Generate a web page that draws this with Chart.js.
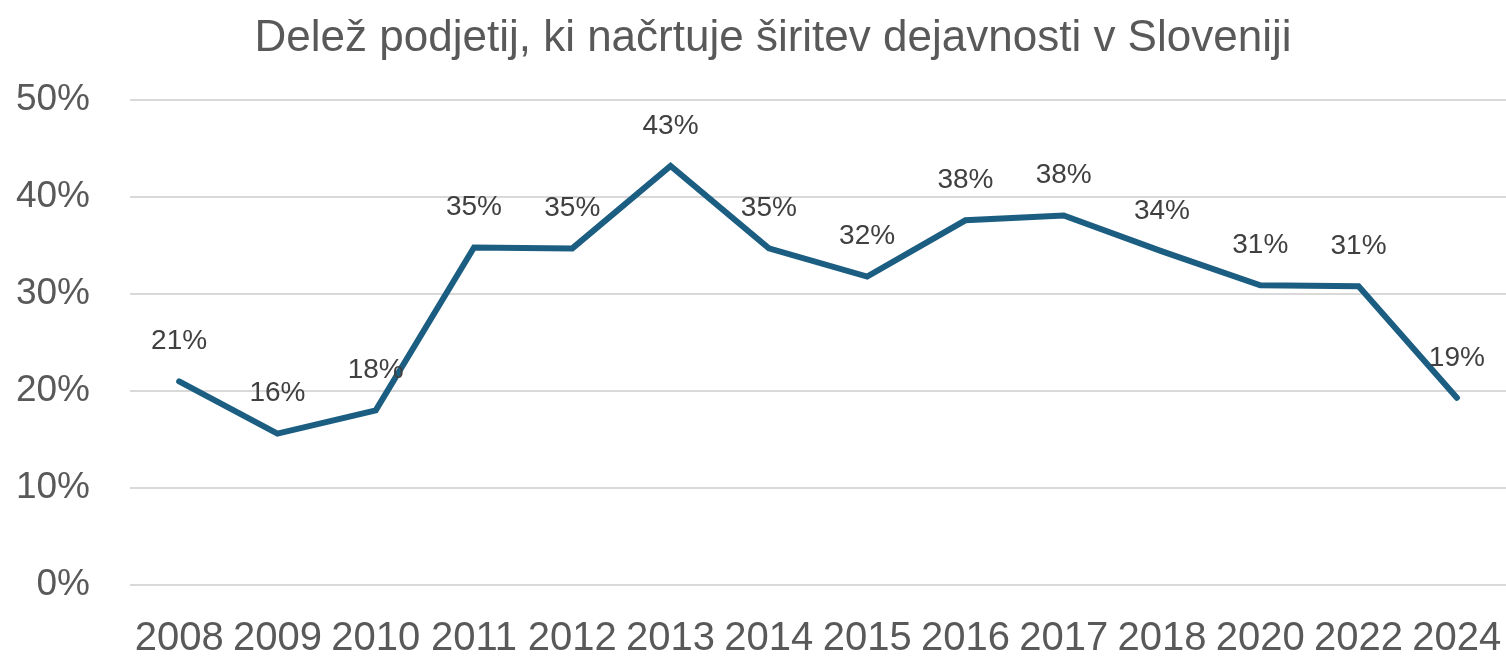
<!DOCTYPE html>
<html>
<head>
<meta charset="utf-8">
<script src="https://cdn.jsdelivr.net/npm/chart.js@4.4.1/dist/chart.umd.min.js"></script>
<style>
  html, body { margin: 0; padding: 0; background: #ffffff; overflow: hidden; }
  #wrap { width: 1506px; height: 656px; position: relative; }
</style>
</head>
<body>
<div id="wrap"><canvas id="c" width="1506" height="656"></canvas></div>
<script>
const titleText = 'Delež podjetij, ki načrtuje širitev dejavnosti v Sloveniji';
const categories = ['2008','2009','2010','2011','2012','2013','2014','2015','2016','2017','2018','2020','2022','2024'];
const shareValues = [21.0, 15.6, 18.0, 34.8, 34.7, 43.2, 34.7, 31.8, 37.6, 38.1, 34.4, 30.9, 30.8, 19.3];
const yTicks = [0, 10, 20, 30, 40, 50];

const lineColor = '#1C5E82';
const textColor = '#595959';
const fontFamily = '"Liberation Sans", Arial, sans-serif';

const titlePlugin = {
  id: 'centeredTitle',
  afterDraw(chart) {
    const ctx = chart.ctx;
    ctx.save();
    ctx.font = '44px ' + fontFamily;
    ctx.fillStyle = textColor;
    ctx.textAlign = 'center';
    ctx.textBaseline = 'alphabetic';
    ctx.fillText(titleText, 773, 51);
    ctx.restore();
  }
};

const dataLabelPlugin = {
  id: 'dataLabels',
  afterDatasetsDraw(chart) {
    const ctx = chart.ctx;
    const meta = chart.getDatasetMeta(0);
    ctx.save();
    ctx.font = '28px ' + fontFamily;
    ctx.fillStyle = '#404040';
    ctx.textAlign = 'center';
    ctx.textBaseline = 'middle';
    meta.data.forEach((pt, i) => {
      const v = chart.data.datasets[0].data[i];
      ctx.fillText(Math.round(v) + '%', pt.x, pt.y - 40);
    });
    ctx.restore();
  }
};

new Chart(document.getElementById('c'), {
  type: 'line',
  data: {
    labels: categories,
    datasets: [{
      data: shareValues,
      borderColor: lineColor,
      borderWidth: 6,
      pointRadius: 0,
      pointHoverRadius: 0,
      tension: 0,
      fill: false,
      borderCapStyle: 'round',
      borderJoinStyle: 'miter'
    }]
  },
  options: {
    responsive: false,
    animation: false,
    devicePixelRatio: 1,
    layout: { padding: { left: 0, right: 0, top: 100, bottom: 0 } },
    plugins: {
      legend: { display: false },
      tooltip: { enabled: false },
      title: { display: false }
    },
    scales: {
      x: {
        offset: true,
        grid: { display: false, drawTicks: false },
        border: { display: false },
        afterFit(scale) { scale.height = 71; scale.paddingLeft = 0; scale.paddingRight = 0; },
        ticks: {
          color: textColor,
          autoSkip: false,
          maxRotation: 0,
          padding: 34,
          font: { family: fontFamily, size: 40, lineHeight: 1 }
        }
      },
      y: {
        min: 0,
        max: 50,
        afterBuildTicks(scale) { scale.ticks = yTicks.map(v => ({ value: v })); },
        afterFit(scale) { scale.width = 130; },
        grid: { color: '#D9D9D9', lineWidth: 2, drawTicks: false },
        border: { display: false },
        ticks: {
          color: textColor,
          padding: 40,
          font: { family: fontFamily, size: 37 },
          callback: v => v + '%'
        }
      }
    }
  },
  plugins: [dataLabelPlugin, titlePlugin]
});
</script>
</body>
</html>
